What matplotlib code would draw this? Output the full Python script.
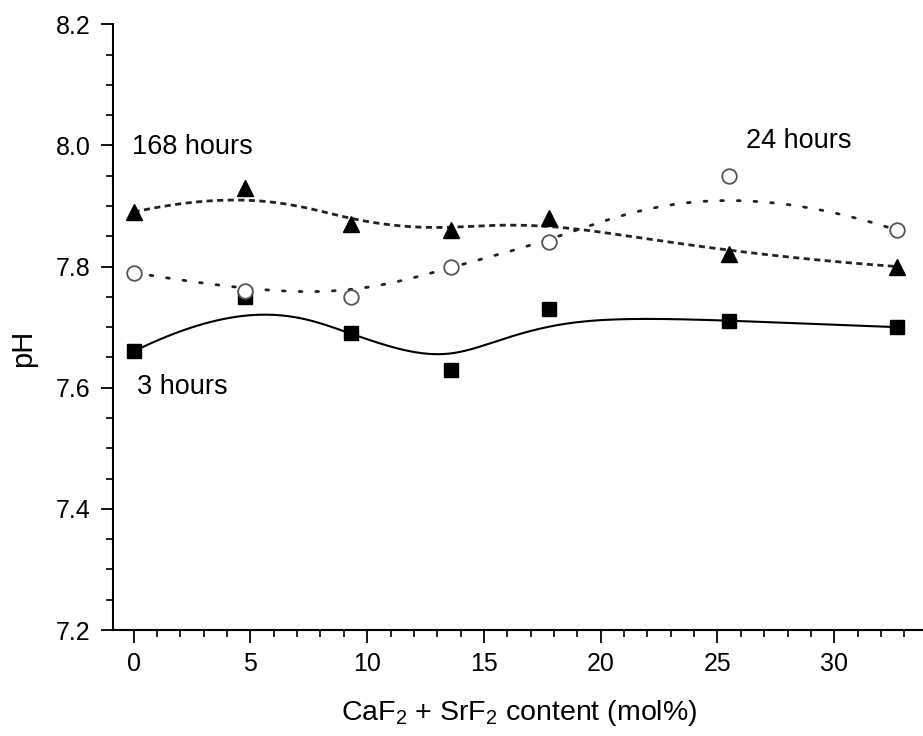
import numpy as np
import matplotlib
matplotlib.use("Agg")
import matplotlib.pyplot as plt
from matplotlib.ticker import MultipleLocator

plt.rcParams['font.family'] = ['Liberation Sans', 'DejaVu Sans']
plt.rcParams['mathtext.default'] = 'regular'

# ---- data ----
content = [0, 4.76, 9.3, 13.6, 17.8, 25.5, 32.7]   # CaF2 + SrF2 (mol%)
ph_3h = [7.66, 7.75, 7.69, 7.63, 7.73, 7.71, 7.70]
ph_24h = [7.79, 7.76, 7.75, 7.80, 7.84, 7.95, 7.86]
ph_168h = [7.89, 7.93, 7.87, 7.86, 7.88, 7.82, 7.80]


def bspline(xs, ys, n=300, k=3):
    # clamped uniform B-spline using the points as control points
    P = np.column_stack([xs, ys])
    m = len(P)
    inner = np.linspace(0, 1, m - k + 1)
    t = np.concatenate([np.zeros(k), inner, np.ones(k)])
    u = np.linspace(0, 1, n)
    u[-1] = 1 - 1e-12
    N = np.zeros((n, len(t) - 1))
    for i in range(len(t) - 1):
        N[:, i] = (u >= t[i]) & (u < t[i + 1])
    for d in range(1, k + 1):
        Nn = np.zeros((n, len(t) - 1 - d))
        for i in range(len(t) - 1 - d):
            a = 0 if t[i + d] == t[i] else (u - t[i]) / (t[i + d] - t[i]) * N[:, i]
            b = 0 if t[i + d + 1] == t[i + 1] else (t[i + d + 1] - u) / (t[i + d + 1] - t[i + 1]) * N[:, i + 1]
            Nn[:, i] = a + b
        N = Nn
    C = N @ P
    return C[:, 0], C[:, 1]


fig = plt.figure(figsize=(9.23, 7.36), dpi=100)
ax = fig.add_axes([0.122, 0.144, 0.878, 0.823])

x, y = bspline(content, ph_3h)
ax.plot(x, y, color='black', lw=1.5, ls='-')
x, y = bspline(content, ph_168h)
ax.plot(x, y, color='#222222', lw=2.0, ls=(0, (2.2, 1.6)))
x, y = bspline(content, ph_24h)
ax.plot(x, y, color='#222222', lw=2.0, ls=(0, (1, 5)), dash_capstyle='round')

ax.plot(content, ph_3h, ls='none', marker='s', ms=9.5, color='black', zorder=3)
ax.plot(content, ph_168h, ls='none', marker='^', ms=12, color='black', zorder=3)
ax.plot(content, ph_24h, ls='none', marker='o', ms=10.5, mfc='white', mec='#555555', mew=1.3, zorder=3)

ax.text(-0.07, 7.997, '168 hours', fontsize=19.5, va='center', ha='left')
ax.text(0.16, 7.601, '3 hours', fontsize=19.5, va='center', ha='left')
ax.text(26.2, 8.007, '24 hours', fontsize=19.5, va='center', ha='left')

ax.set_xlim(-0.9, 33.8)
ax.set_ylim(7.2, 8.2)
ax.xaxis.set_major_locator(MultipleLocator(5))
ax.xaxis.set_minor_locator(MultipleLocator(1))
ax.yaxis.set_major_locator(MultipleLocator(0.2))
ax.yaxis.set_minor_locator(MultipleLocator(0.05))
ax.yaxis.set_major_formatter(matplotlib.ticker.FormatStrFormatter('%.1f'))
ax.tick_params(which='major', direction='out', length=9, width=1.3, labelsize=18, pad=7)
ax.tick_params(which='minor', direction='out', length=5, width=1.2)

for s in ['top', 'right']:
    ax.spines[s].set_visible(False)
for s in ['left', 'bottom']:
    ax.spines[s].set_linewidth(1.5)

ax.set_xlabel(r'CaF$_2$ + SrF$_2$ content (mol%)', fontsize=20.5)
ax.set_ylabel('pH', fontsize=21)
ax.xaxis.set_label_coords(0.502, -0.113)
ax.yaxis.set_label_coords(-0.093, 0.465)

fig.savefig('out.png', dpi=100)
